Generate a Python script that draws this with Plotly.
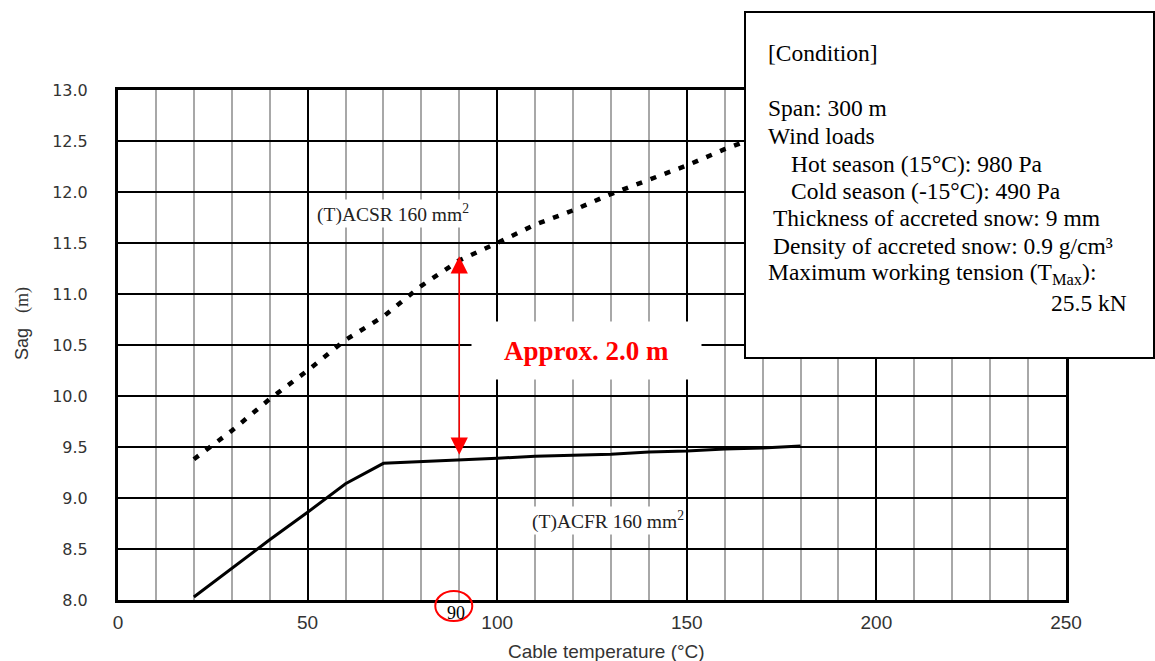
import plotly.graph_objects as go

# ---------------- data ----------------
temperature = [20, 30, 40, 50, 60, 70, 80, 90, 100, 110, 120, 130, 140, 150, 160, 170, 180]
sag_acsr = [9.38, 9.66, 9.97, 10.25, 10.55, 10.78, 11.08, 11.33, 11.50, 11.68, 11.82,
            11.98, 12.12, 12.26, 12.42, 12.56, 12.70]
sag_acfr = [8.03, 8.31, 8.59, 8.86, 9.14, 9.34, 9.355, 9.37, 9.39, 9.41, 9.42,
            9.43, 9.45, 9.46, 9.48, 9.49, 9.51]
x_ticks = [0, 50, 100, 150, 200, 250]
y_ticks = [8.0, 8.5, 9.0, 9.5, 10.0, 10.5, 11.0, 11.5, 12.0, 12.5, 13.0]
x_range = [0, 250]
y_range = [8, 13]
marked_temp = 90

condition_lines = [
    "[Condition]",
    "Span: 300 m",
    "Wind loads",
    "Hot season (15°C): 980 Pa",
    "Cold season (-15°C): 490 Pa",
    "Thickness of accreted snow: 9 mm",
    "Density of accreted snow: 0.9 g/cm³",
    "Maximum working tension (T<sub>Max</sub>):",
    "25.5 kN",
]

# ---------------- layout geometry ----------------
W, H = 1155, 661
L, R, T, B = 118, 1066, 90, 600


def px(x):
    return (x - L) / (R - L)


def py(y):
    return (B - y) / (B - T)


SERIF = "Liberation Serif, Times New Roman, serif"
SANS = "Liberation Sans, Arial, sans-serif"

fig = go.Figure()
fig.add_trace(go.Scatter(x=temperature, y=sag_acsr, mode="lines",
                         line=dict(color="black", width=4.5, dash="6px,9px"),
                         showlegend=False, hoverinfo="skip"))
fig.add_trace(go.Scatter(x=temperature, y=sag_acfr, mode="lines",
                         line=dict(color="black", width=3),
                         showlegend=False, hoverinfo="skip"))

acsr_90 = sag_acsr[temperature.index(marked_temp)]
acfr_90 = sag_acfr[temperature.index(marked_temp)]
mark_frac = (marked_temp - x_range[0]) / (x_range[1] - x_range[0])

annotations = []
# series labels
annotations.append(dict(x=px(393), y=py(213), xref="paper", yref="paper",
                        text="(T)ACSR 160 mm<sup>2</sup>", showarrow=False,
                        font=dict(family=SERIF, size=19.5, color="#222"),
                        bgcolor="white", xanchor="center", yanchor="middle"))
annotations.append(dict(x=px(608), y=py(520), xref="paper", yref="paper",
                        text="(T)ACFR 160 mm<sup>2</sup>", showarrow=False,
                        font=dict(family=SERIF, size=19.5, color="#222"),
                        bgcolor="white", xanchor="center", yanchor="middle"))
# difference label
annotations.append(dict(x=px(586), y=py(350), xref="paper", yref="paper",
                        text="<b>Approx. 2.0 m</b>", showarrow=False,
                        font=dict(family=SERIF, size=27, color="#ff0000"),
                        bgcolor="white", width=227, height=55,
                        xanchor="center", yanchor="middle"))
# double arrow
annotations.append(dict(x=marked_temp, y=acsr_90 + 0.04, ax=marked_temp, ay=acfr_90 + 0.04,
                        xref="x", yref="y", axref="x", ayref="y",
                        text="", showarrow=True, arrowside="end+start",
                        arrowhead=2, startarrowhead=2, arrowsize=2.3, startarrowsize=2.3,
                        arrowwidth=1.5, arrowcolor="#ff0000", standoff=0, startstandoff=0))
# the "90" mark on the axis
annotations.append(dict(x=mark_frac, y=0, xref="paper", yref="paper", text=str(marked_temp),
                        showarrow=False, font=dict(family=SERIF, size=18, color="black"),
                        xanchor="center", yanchor="top", xshift=-3, yshift=-1))
# axis titles
annotations.append(dict(x=px(22), y=py(324), xref="paper", yref="paper",
                        text="Sag\u00a0\u00a0\u00a0<span style='font-family:Liberation Serif'>(m)</span>",
                        showarrow=False, textangle=-90,
                        font=dict(family=SANS, size=18, color="#333"),
                        xanchor="center", yanchor="middle"))
annotations.append(dict(x=px(606), y=py(651), xref="paper", yref="paper",
                        text="Cable temperature (°C)", showarrow=False,
                        font=dict(family=SANS, size=19, color="#333"),
                        xanchor="center", yanchor="middle"))

# condition box text
cond_pos = [(766, 53), (766, 108), (766, 136), (789, 164), (789, 191),
            (771, 218), (771, 246), (766, 274)]
for txt, (cx, cy) in zip(condition_lines[:-1], cond_pos):
    annotations.append(dict(x=px(cx), y=py(cy), xref="paper", yref="paper", text=txt,
                            showarrow=False, font=dict(family=SERIF, size=23.5, color="black"),
                            xanchor="left", yanchor="middle"))
annotations.append(dict(x=px(1129), y=py(303), xref="paper", yref="paper",
                        text=condition_lines[-1], showarrow=False,
                        font=dict(family=SERIF, size=23.5, color="black"),
                        xanchor="right", yanchor="middle"))

shapes = [
    dict(type="rect", xref="paper", yref="paper", x0=px(745), x1=px(1154),
         y0=py(358), y1=py(12), fillcolor="white", line=dict(color="black", width=2),
         layer="above"),
    dict(type="circle", xref="paper", yref="paper", xsizemode="pixel", ysizemode="pixel",
         xanchor=mark_frac, yanchor=0, x0=-24, x1=13, y0=-21, y1=9,
         line=dict(color="#ff0000", width=2), layer="above"),
]

fig.update_layout(
    width=W, height=H,
    margin=dict(l=L, r=W - R, t=T, b=H - B),
    plot_bgcolor="white", paper_bgcolor="white",
    annotations=annotations, shapes=shapes,
    xaxis=dict(range=x_range, tickvals=x_ticks, ticktext=[str(v) for v in x_ticks],
               showgrid=True, gridcolor="black", gridwidth=1.6,
               minor=dict(dtick=10, showgrid=True, gridcolor="#a8a8a8", gridwidth=1.5),
               showline=True, linecolor="black", linewidth=3, mirror=True,
               ticks="", ticklabelstandoff=3, zeroline=False, automargin=False,
               tickfont=dict(family=SANS, size=19, color="#333")),
    yaxis=dict(range=y_range, tickvals=y_ticks, ticktext=[f"{v:.1f}" for v in y_ticks],
               showgrid=True, gridcolor="black", gridwidth=1.6,
               showline=True, linecolor="black", linewidth=3, mirror=True,
               ticks="", ticklabelstandoff=24, zeroline=False, automargin=False,
               tickfont=dict(family="DejaVu Sans, sans-serif", size=16, color="#333")),
)

fig.write_html("out.html")
